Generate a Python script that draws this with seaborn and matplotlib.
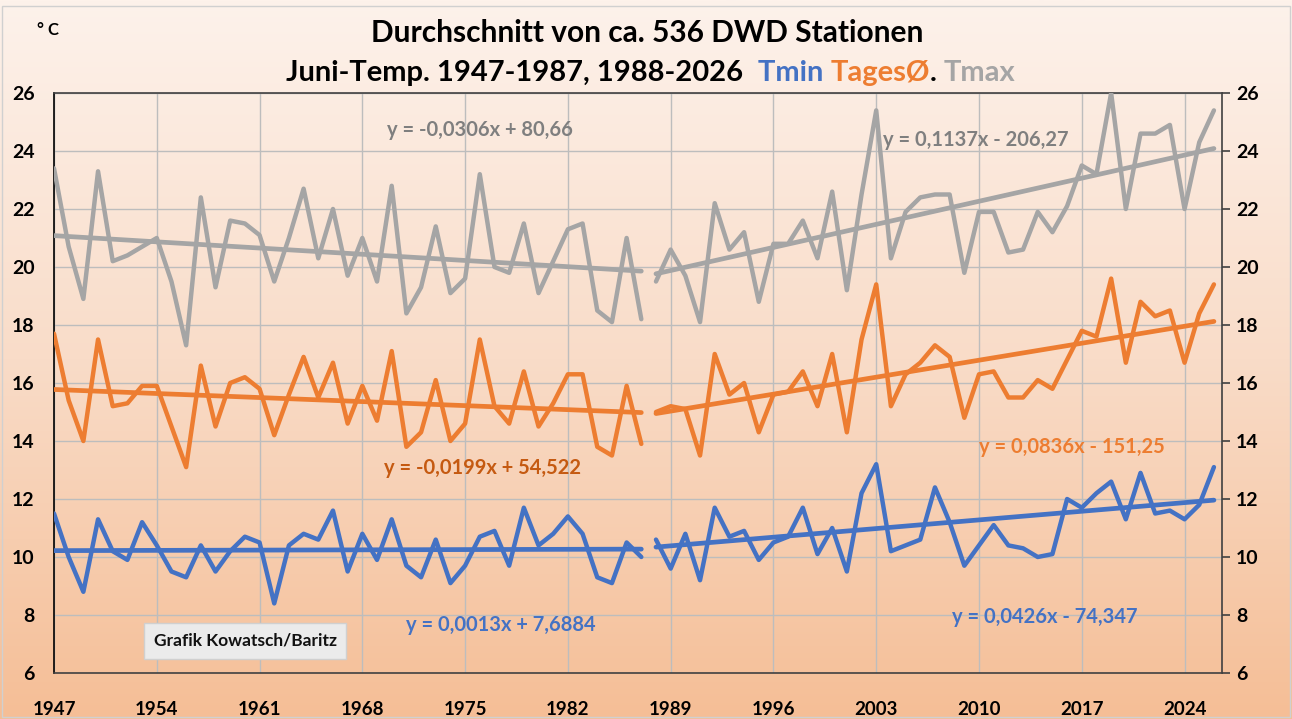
import numpy as np
import pandas as pd
import matplotlib
matplotlib.use("Agg")
import matplotlib.pyplot as plt
import seaborn as sns
from matplotlib.colors import LinearSegmentedColormap
from matplotlib.patches import Rectangle

# data
years1 = list(range(1947, 1988))
years2 = list(range(1988, 2027))

tmax1 = [23.4, 20.7, 18.9, 23.3, 20.2, 20.4, 20.7, 21.0, 19.5, 17.3,
         22.4, 19.3, 21.6, 21.5, 21.1, 19.5, 21.0, 22.7, 20.3, 22.0,
         19.7, 21.0, 19.5, 22.8, 18.4, 19.3, 21.4, 19.1, 19.6, 23.2,
         20.0, 19.8, 21.5, 19.1, 20.2, 21.3, 21.5, 18.5, 18.1, 21.0, 18.2]
tmax2 = [19.5, 20.6, 19.7, 18.1, 22.2, 20.6, 21.2, 18.8, 20.8, 20.8,
         21.6, 20.3, 22.6, 19.2, 22.5, 25.4, 20.3, 21.9, 22.4, 22.5,
         22.5, 19.8, 21.9, 21.9, 20.5, 20.6, 21.9, 21.2, 22.1, 23.5,
         23.2, 26.0, 22.0, 24.6, 24.6, 24.9, 22.0, 24.3, 25.4]

tmean1 = [17.7, 15.4, 14.0, 17.5, 15.2, 15.3, 15.9, 15.9, 14.5, 13.1,
          16.6, 14.5, 16.0, 16.2, 15.8, 14.2, 15.6, 16.9, 15.5, 16.7,
          14.6, 15.9, 14.7, 17.1, 13.8, 14.3, 16.1, 14.0, 14.6, 17.5,
          15.2, 14.6, 16.4, 14.5, 15.3, 16.3, 16.3, 13.8, 13.5, 15.9, 13.9]
tmean2 = [15.0, 15.2, 15.1, 13.5, 17.0, 15.6, 16.0, 14.3, 15.6, 15.7,
          16.4, 15.2, 17.0, 14.3, 17.5, 19.4, 15.2, 16.3, 16.7, 17.3,
          16.9, 14.8, 16.3, 16.4, 15.5, 15.5, 16.1, 15.8, 16.8, 17.8,
          17.6, 19.6, 16.7, 18.8, 18.3, 18.5, 16.7, 18.4, 19.4]

tmin1 = [11.5, 10.0, 8.8, 11.3, 10.2, 9.9, 11.2, 10.4, 9.5, 9.3,
         10.4, 9.5, 10.2, 10.7, 10.5, 8.4, 10.4, 10.8, 10.6, 11.6,
         9.5, 10.8, 9.9, 11.3, 9.7, 9.3, 10.6, 9.1, 9.7, 10.7,
         10.9, 9.7, 11.7, 10.4, 10.8, 11.4, 10.8, 9.3, 9.1, 10.5, 10.0]
tmin2 = [10.6, 9.6, 10.8, 9.2, 11.7, 10.7, 10.9, 9.9, 10.5, 10.7,
         11.7, 10.1, 11.0, 9.5, 12.2, 13.2, 10.2, 10.4, 10.6, 12.4,
         11.2, 9.7, 10.4, 11.1, 10.4, 10.3, 10.0, 10.1, 12.0, 11.7,
         12.2, 12.6, 11.3, 12.9, 11.5, 11.6, 11.3, 11.8, 13.1]

# trend equations as printed in the chart (slope, intercept)
trend_tmax = [(-0.0306, 80.66), (0.1137, -206.27)]
trend_tmean = [(-0.0199, 54.522), (0.0836, -151.25)]
trend_tmin = [(0.0013, 7.6884), (0.0426, -74.347)]
trend_labels_tmax = ["y = -0,0306x + 80,66", "y = 0,1137x - 206,27"]
trend_labels_tmean = ["y = -0,0199x + 54,522", "y = 0,0836x - 151,25"]
trend_labels_tmin = ["y = 0,0013x + 7,6884", "y = 0,0426x - 74,347"]

xtick_years = [1947, 1954, 1961, 1968, 1975, 1982, 1989, 1996, 2003, 2010, 2017, 2024]

c_min = "#4472C4"
c_mean = "#ED7D31"
c_max = "#A5A5A5"

sns.set_style("white")
plt.rcParams['font.family'] = ['Lato', 'DejaVu Sans']
plt.rcParams['font.weight'] = 'bold'
plt.rcParams['text.color'] = 'black'
plt.rcParams['xtick.labelcolor'] = 'black'
plt.rcParams['ytick.labelcolor'] = 'black'

W, H = 1292, 719
fig = plt.figure(figsize=(W / 100, H / 100), dpi=100)

# gradient background
bg = fig.add_axes([0, 0, 1, 1], zorder=-10)
grad = np.linspace(0, 1, 256).reshape(-1, 1)
cmap = LinearSegmentedColormap.from_list('bg', ['#FDF2EB', '#F9DCC8', '#F5BE96'])
bg.imshow(grad, aspect='auto', cmap=cmap, extent=[0, 1, 0, 1], origin='upper')
bg.axis('off')
fig.patches.append(Rectangle((2 / W, 2 / H), 1 - 4 / W, 1 - 8 / H, transform=fig.transFigure,
                             fill=False, edgecolor='#D0D0D0', lw=1))

ax = fig.add_axes([54 / W, 46 / H, (1222 - 54) / W, (673 - 93) / H])
ax.set_facecolor('none')

df1 = pd.DataFrame({'year': years1, 'Tmax': tmax1, 'Tmean': tmean1, 'Tmin': tmin1})
df2 = pd.DataFrame({'year': years2, 'Tmax': tmax2, 'Tmean': tmean2, 'Tmin': tmin2})

series = [('Tmax', c_max, trend_tmax), ('Tmean', c_mean, trend_tmean), ('Tmin', c_min, trend_tmin)]
for col, color, trends in series:
    for d, (a, b) in zip([df1, df2], trends):
        sns.lineplot(data=d, x='year', y=col, color=color, lw=3.2, ax=ax, zorder=3)
        xs = np.array([d['year'].iloc[0], d['year'].iloc[-1]])
        sns.lineplot(x=xs, y=a * xs + b, color=color, lw=3.4, ax=ax, zorder=4)

ax.set_xlim(1947, 2026.55)
ax.set_ylim(6, 26)
ax.set_yticks(range(6, 27, 2))
ax.set_xticks(xtick_years)
ax.set_xticklabels([str(y) for y in xtick_years])
ax.set_xlabel('')
ax.set_ylabel('')
ax.grid(True, color='#BDBDBD', lw=1)
ax.tick_params(axis='x', length=0, pad=20, labelsize=13.5)
ax.tick_params(axis='y', length=0, pad=14, labelsize=14)
for s in ax.spines.values():
    s.set_color('#404040')
    s.set_linewidth(1.2)
ax.spines['left'].set_color('#000000')

ax2 = ax.twinx()
ax2.set_ylim(6, 26)
ax2.set_yticks(range(6, 27, 2))
ax2.tick_params(axis='y', length=6, width=1.2, color='#404040', pad=4, labelsize=14)
for s in ax2.spines.values():
    s.set_visible(False)

# trend labels
lab_pos = [
    (trend_labels_tmax[0], 1976.0, 24.72, '#7F7F7F'),
    (trend_labels_tmax[1], 2009.8, 24.38, '#7F7F7F'),
    (trend_labels_tmean[0], 1976.2, 13.07, '#C55A11'),
    (trend_labels_tmean[1], 2016.3, 13.79, c_mean),
    (trend_labels_tmin[0], 1977.4, 7.66, c_min),
    (trend_labels_tmin[1], 2014.5, 7.93, c_min),
]
for txt, x, y, c in lab_pos:
    ax.text(x, y, txt, color=c, fontsize=14.5, fontweight='bold', ha='center', va='center', zorder=5)

fig.text(245 / W, 1 - 641 / H, "Grafik Kowatsch/Baritz", fontsize=12.5, fontweight='bold',
         ha='center', va='center', color='#111111',
         bbox=dict(boxstyle='square,pad=0.55', facecolor='#EBEBEB', edgecolor='#D0D0D0'))

fig.text(48 / W, 1 - 30 / H, "° C", fontsize=12, fontweight='bold', ha='center', va='center')
fig.text(647 / W, 1 - 33 / H, "Durchschnitt von ca. 536 DWD Stationen", fontsize=21.5,
         fontweight='bold', ha='center', va='center')

# multicoloured second title line
pieces = [("Juni-Temp. 1947-1987, 1988-2026  ", 'black'), ("Tmin ", c_min),
          ("TagesØ", c_mean), (". ", 'black'), ("Tmax", c_max)]
fig.canvas.draw()
r = fig.canvas.get_renderer()
widths = []
for t, c in pieces:
    tt = fig.text(0, 0, t, fontsize=21, fontweight='bold')
    widths.append(tt.get_window_extent(r).width)
    tt.remove()
x0 = 651 - sum(widths) / 2
for (t, c), w in zip(pieces, widths):
    fig.text(x0 / W, 1 - 73 / H, t, fontsize=21, fontweight='bold', color=c, ha='left', va='center')
    x0 += w

fig.savefig('out.png', dpi=100)
